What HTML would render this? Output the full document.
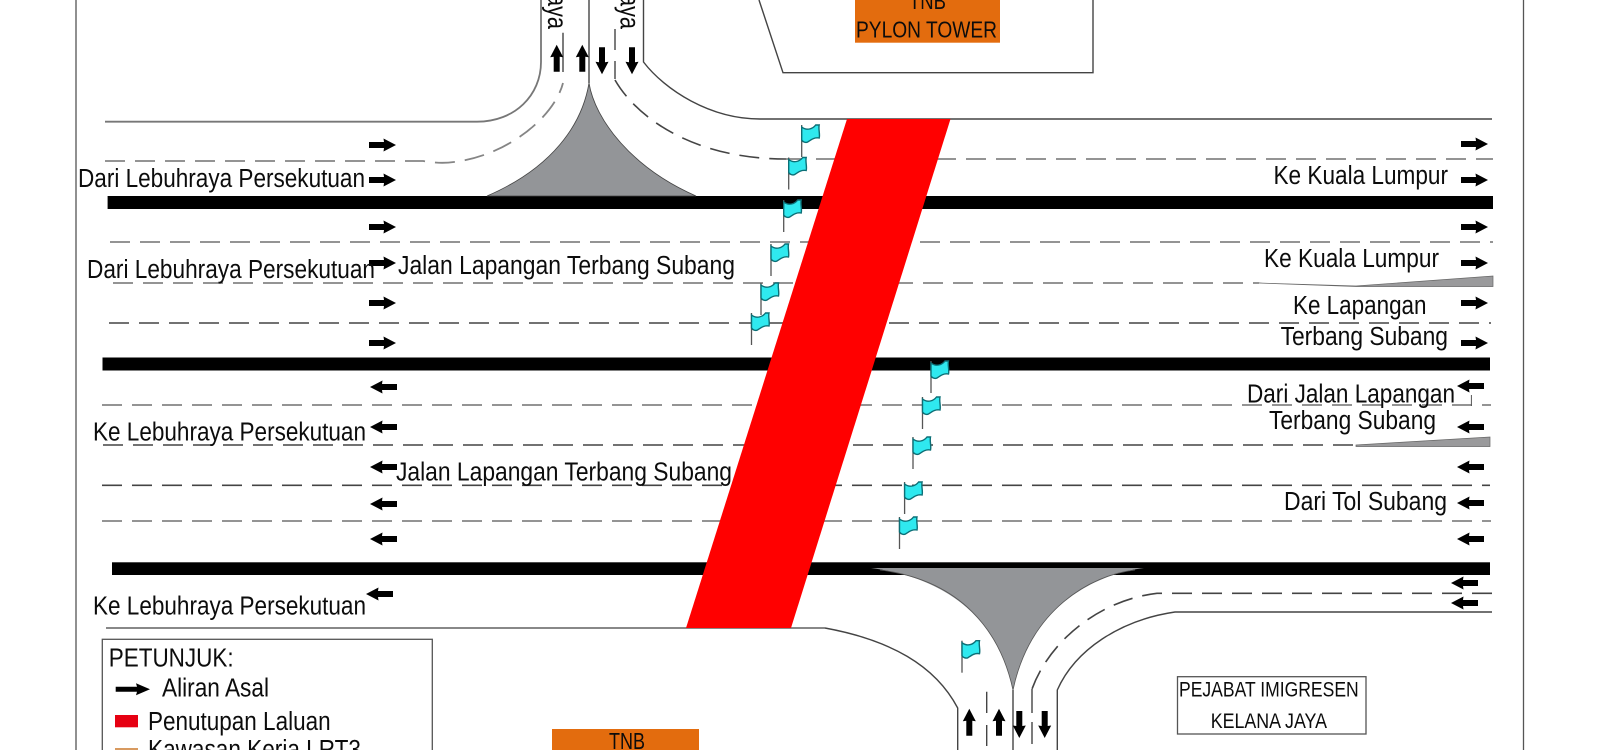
<!DOCTYPE html>
<html><head><meta charset="utf-8"><style>
html,body{margin:0;padding:0;background:#fff;width:1601px;height:750px;overflow:hidden}
svg{display:block;filter:blur(.35px)}
text{font-family:"Liberation Sans",sans-serif;fill:#0c0c0c;font-size:25.5px}
.t{stroke:#444;stroke-width:1.4;fill:none}
.g{stroke:#777;stroke-width:1.8;fill:none}
.d{stroke:#858585;stroke-width:1.8;fill:none;stroke-dasharray:20 10}
.k{stroke:#444;stroke-width:1.6;fill:none;stroke-dasharray:20 10}
</style></head><body>
<svg width="1601" height="750" viewBox="0 0 1601 750" xmlns="http://www.w3.org/2000/svg">
<defs>
<polygon id="r" points="0,-3 15,-3 14.5,-6.5 27,0 14.5,6.5 15,3 0,3" fill="#000"/>
<g id="f">
<path d="M0,0V32" stroke="#555" stroke-width="1.3" fill="none"/>
<path d="M0,2 C5,6 11,4 14,0 L17.5,0 C16.5,4 18.5,9 17.5,13 C12.5,12 9,15 6,17 C4,18 1,17 0,15 Z" fill="#2fe9ef" stroke="#0c6f76" stroke-width="1.4"/>
</g>
</defs>
<rect width="1601" height="750" fill="#fff"/>
<path d="M76,0V750M1523.5,0V750" stroke="#555" stroke-width="1.3" fill="none"/>

<path class="t" d="M759,0L783,72.7H1093V0"/>
<path class="g" d="M105,121.7H477C515,121.7 541,95 541,62V0"/>
<path class="t" d="M643.5,0V62C665,90 710,119 760,119H1492"/>
<path class="t" d="M589,0V83"/>
<path class="t" d="M563,32.7V72M615,29V50M615,61V79"/>
<path class="d" d="M105,161H423Q440,164 454,162C510,155 555,115 563,83"/>
<path class="k" stroke-dasharray="18 9" d="M615,80C635,115 690,159 786,159"/>
<path class="d" d="M786,159H1493M110,242H1493M113,283H1259M102,405H1491M102,521H1491"/>
<path class="k" d="M109,323H1491M103,445H1356M102,485.3H1490"/>
<path class="k" d="M1492,593.3H1157C1100,600 1050,640 1032,689"/>
<path class="t" d="M1032,689V713M1032,722V744M986.7,691.7V713M986.7,725V746"/>
<path d="M1259,283L1356,286L1493,276V286.5H1356Z" fill="#9a9a9c" stroke="#666" stroke-width=".7"/>
<path d="M1356,445L1490,437V446.5H1356Z" fill="#9a9a9c" stroke="#666" stroke-width=".7"/>
<path class="g" d="M106,628H825"/>
<path class="t" d="M825,628C890,640 935,665 957.7,708V750"/>
<path class="t" d="M1492,612H1175C1120,620 1075,650 1057.3,690V750M1013,690V750"/>
<path d="M1471.4,395V406" stroke="#555" stroke-width="1" fill="none"/>

<rect x="107.6" y="196" width="1385.4" height="13" fill="#000"/>
<rect x="102.5" y="357.5" width="1387.5" height="13" fill="#000"/>
<rect x="112" y="562.3" width="1378" height="12.7" fill="#000"/>

<path d="M589,83C582,125 552,168 487,196H696C632,168 595,120 589,83Z" fill="#939598" stroke="#444" stroke-width=".8"/>
<path d="M871,568H1144C1090,575 1030,610 1013,690C1000,630 960,580 871,568Z" fill="#939598"/>
<path d="M1013,690C1000,630 960,580 880,570M1013,690C1030,610 1090,575 1135,570" stroke="#555" stroke-width=".8" fill="none"/>

<polygon points="847,119 950.5,119 791,628 686,628" fill="#ff0000"/>

<use href="#f" x="801.7" y="125"/><use href="#f" x="788.7" y="157.5"/><use href="#f" x="783.7" y="200"/>
<use href="#f" x="771" y="244"/><use href="#f" x="761" y="283"/><use href="#f" x="751.5" y="313"/>
<use href="#f" x="931" y="361"/><use href="#f" x="922.5" y="397"/><use href="#f" x="913" y="437"/>
<use href="#f" x="904.6" y="482"/><use href="#f" x="899.5" y="517"/><use href="#f" x="962" y="640.7"/>

<use href="#r" transform="translate(369,145)"/><use href="#r" transform="translate(369,180)"/>
<use href="#r" transform="translate(369,227)"/><use href="#r" transform="translate(369,263)"/>
<use href="#r" transform="translate(369,303)"/><use href="#r" transform="translate(369,343)"/>
<use href="#r" transform="translate(1461,144)"/><use href="#r" transform="translate(1461,180)"/>
<use href="#r" transform="translate(1461,227)"/><use href="#r" transform="translate(1461,263)"/>
<use href="#r" transform="translate(1461,303)"/><use href="#r" transform="translate(1461,343)"/>
<use href="#r" transform="translate(397,387) scale(-1,1)"/><use href="#r" transform="translate(397,427) scale(-1,1)"/>
<use href="#r" transform="translate(397,467) scale(-1,1)"/><use href="#r" transform="translate(397,504) scale(-1,1)"/>
<use href="#r" transform="translate(397,539) scale(-1,1)"/><use href="#r" transform="translate(393,594) scale(-1,1)"/>
<use href="#r" transform="translate(1484,386) scale(-1,1)"/><use href="#r" transform="translate(1484,427) scale(-1,1)"/>
<use href="#r" transform="translate(1484,467) scale(-1,1)"/><use href="#r" transform="translate(1484,503) scale(-1,1)"/>
<use href="#r" transform="translate(1484,539) scale(-1,1)"/><use href="#r" transform="translate(1478,583) scale(-1,1)"/>
<use href="#r" transform="translate(1478,603) scale(-1,1)"/>
<use href="#r" transform="translate(556.7,71.7) rotate(-90)"/><use href="#r" transform="translate(582.3,71.7) rotate(-90)"/>
<use href="#r" transform="translate(602,47.3) rotate(90)"/><use href="#r" transform="translate(632,47.3) rotate(90)"/>
<use href="#r" transform="translate(969.3,735.7) rotate(-90)"/><use href="#r" transform="translate(999,735.7) rotate(-90)"/>
<use href="#r" transform="translate(1019.3,711) rotate(90)"/><use href="#r" transform="translate(1044.7,711) rotate(90)"/>

<rect x="855" y="0" width="145" height="42.7" fill="#e36c0e"/>
<text x="909" y="9" style="font-size:23px" textLength="37" lengthAdjust="spacingAndGlyphs">TNB</text>
<text x="856" y="37.3" style="font-size:23px" textLength="141" lengthAdjust="spacingAndGlyphs">PYLON TOWER</text>

<text transform="translate(548,-6) rotate(90)" style="font-size:28px" textLength="35" lengthAdjust="spacingAndGlyphs">aya</text>
<text transform="translate(620.7,-6) rotate(90)" style="font-size:28px" textLength="35" lengthAdjust="spacingAndGlyphs">aya</text>

<text x="78" y="187" textLength="287" lengthAdjust="spacingAndGlyphs">Dari Lebuhraya Persekutuan</text>
<text x="87" y="278" textLength="288" lengthAdjust="spacingAndGlyphs">Dari Lebuhraya Persekutuan</text>
<text x="398" y="274" textLength="337" lengthAdjust="spacingAndGlyphs">Jalan Lapangan Terbang Subang</text>
<text x="1273.5" y="184" textLength="174.5" lengthAdjust="spacingAndGlyphs">Ke Kuala Lumpur</text>
<text x="1264" y="267" textLength="175" lengthAdjust="spacingAndGlyphs">Ke Kuala Lumpur</text>
<text x="1293" y="314" textLength="133.5" lengthAdjust="spacingAndGlyphs">Ke Lapangan</text>
<text x="1280.6" y="345" textLength="167.4" lengthAdjust="spacingAndGlyphs">Terbang Subang</text>
<text x="93" y="440.7" textLength="273" lengthAdjust="spacingAndGlyphs">Ke Lebuhraya Persekutuan</text>
<text x="396" y="480.7" textLength="336" lengthAdjust="spacingAndGlyphs">Jalan Lapangan Terbang Subang</text>
<text x="93" y="614.7" textLength="273" lengthAdjust="spacingAndGlyphs">Ke Lebuhraya Persekutuan</text>
<text x="1247" y="402.7" textLength="208" lengthAdjust="spacingAndGlyphs">Dari Jalan Lapangan</text>
<text x="1269" y="429" textLength="167" lengthAdjust="spacingAndGlyphs">Terbang Subang</text>
<text x="1284" y="510" textLength="163" lengthAdjust="spacingAndGlyphs">Dari Tol Subang</text>

<rect x="102.3" y="639.3" width="330" height="130" fill="#fff" stroke="#555" stroke-width="1.3"/>
<text x="108.7" y="666.7" textLength="125" lengthAdjust="spacingAndGlyphs">PETUNJUK:</text>
<polygon points="115.7,686.8 137,686.8 136,683.3 150,689.3 136,695.3 137,691.8 115.7,691.8" fill="#000"/>
<text x="162" y="696.7" textLength="107" lengthAdjust="spacingAndGlyphs">Aliran Asal</text>
<rect x="115" y="715" width="23" height="12.3" fill="#e60012"/>
<text x="148" y="730" textLength="182.6" lengthAdjust="spacingAndGlyphs">Penutupan Laluan</text>
<rect x="115" y="748" width="23" height="6" fill="#d89a60"/>
<text x="148" y="758" textLength="213" lengthAdjust="spacingAndGlyphs">Kawasan Kerja LRT3</text>

<rect x="552" y="729" width="147" height="25" fill="#e36c0e"/>
<text x="609" y="749" style="font-size:23px" textLength="36" lengthAdjust="spacingAndGlyphs">TNB</text>

<rect x="1177.5" y="676.7" width="188.5" height="57.3" fill="#fff" stroke="#555" stroke-width="1.3"/>
<text x="1179" y="696.7" style="font-size:21px" textLength="179.7" lengthAdjust="spacingAndGlyphs">PEJABAT IMIGRESEN</text>
<text x="1210.7" y="728" style="font-size:21px" textLength="116.3" lengthAdjust="spacingAndGlyphs">KELANA JAYA</text>
</svg>
</body></html>
